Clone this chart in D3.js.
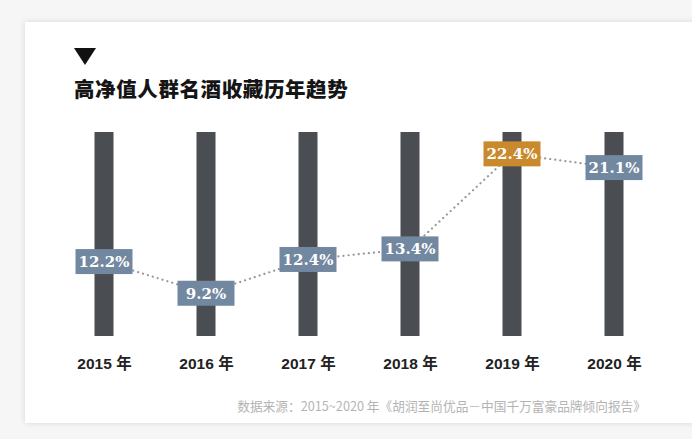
<!DOCTYPE html>
<html>
<head>
<meta charset="utf-8">
<script src="https://cdn.jsdelivr.net/npm/d3@7"></script>
<style>
  html, body { margin: 0; padding: 0; background: #f6f6f6; }
  #chart { width: 692px; height: 439px; overflow: hidden; }
</style>
</head>
<body>
<div id="chart"></div>
<script>
const years = ['2015 年', '2016 年', '2017 年', '2018 年', '2019 年', '2020 年'];
const shares = [12.2, 9.2, 12.4, 13.4, 22.4, 21.1];
const highlightYear = '2019 年';
const title = '高净值人群名酒收藏历年趋势';
const source = '数据来源：2015~2020 年《胡润至尚优品－中国千万富豪品牌倾向报告》';

const width = 692, height = 439;
const data = years.map((y, i) => ({year: y, value: shares[i]}));

const svg = d3.select('#chart').append('svg')
  .attr('width', width)
  .attr('height', height)
  .attr('viewBox', `0 0 ${width} ${height}`);

// card with soft shadow
const defs = svg.append('defs');
const shadow = defs.append('filter').attr('id', 'shadow')
  .attr('x', '-5%').attr('y', '-5%').attr('width', '110%').attr('height', '110%');
shadow.append('feDropShadow')
  .attr('dx', 0).attr('dy', 0).attr('stdDeviation', 3)
  .attr('flood-color', '#000').attr('flood-opacity', 0.12);

svg.append('rect')
  .attr('x', 25).attr('y', 22)
  .attr('width', 700).attr('height', 401)
  .attr('fill', '#fff')
  .attr('filter', 'url(#shadow)');

// title
svg.append('path')
  .attr('d', d3.line()([[74, 48], [96, 48], [85, 65]]) + 'Z')
  .attr('fill', '#111');

svg.append('text')
  .attr('x', 74).attr('y', 97)
  .attr('font-family', '"Noto Sans CJK SC", sans-serif')
  .attr('font-weight', 900)
  .attr('font-size', 20.5)
  .attr('letter-spacing', 0.6)
  .attr('fill', '#151515')
  .text(title);

// scales
const x = d3.scalePoint()
  .domain(years)
  .range([104, 614]);

const y = d3.scaleLinear()
  .domain([0, 25])
  .range([390.4, 126.4]);

const barTop = 132, barBottom = 336, barW = 19;

// bars (full height columns)
svg.append('g').selectAll('rect')
  .data(data)
  .join('rect')
  .attr('x', d => x(d.year) - barW / 2)
  .attr('y', barTop)
  .attr('width', barW)
  .attr('height', barBottom - barTop)
  .attr('fill', '#4a4d52');

// dotted trend line
svg.append('path')
  .datum(data)
  .attr('d', d3.line().x(d => x(d.year)).y(d => y(d.value)))
  .attr('fill', 'none')
  .attr('stroke', '#999')
  .attr('stroke-width', 2.2)
  .attr('stroke-linecap', 'round')
  .attr('stroke-dasharray', '0.1,5');

// value labels
const boxW = 57, boxH = 25;
const lab = svg.append('g').selectAll('g')
  .data(data)
  .join('g')
  .attr('transform', d => `translate(${x(d.year)},${y(d.value)})`);

lab.append('rect')
  .attr('x', -boxW / 2).attr('y', -boxH / 2)
  .attr('width', boxW).attr('height', boxH)
  .attr('fill', d => d.year === highlightYear ? '#c98a2e' : '#7287a0');

lab.append('text')
  .attr('text-anchor', 'middle')
  .attr('dy', '0.36em')
  .attr('font-family', '"DejaVu Serif", serif')
  .attr('font-weight', 700)
  .attr('font-size', 15)
  .attr('fill', '#fff')
  .text(d => d.value.toFixed(1) + '%');

// x axis labels
const xAxis = svg.append('g')
  .attr('transform', `translate(0,${barBottom})`)
  .call(d3.axisBottom(x).tickSize(0).tickPadding(33));
xAxis.select('.domain').remove();
xAxis.selectAll('text')
  .attr('font-family', '"Liberation Sans", Arial, "Noto Sans CJK SC", sans-serif')
  .attr('font-weight', 700)
  .attr('font-size', 15.5)
  .attr('fill', '#222')
  .attr('dy', 0);

// source
svg.append('text')
  .attr('x', 646).attr('y', 411)
  .attr('text-anchor', 'end')
  .attr('font-family', '"Noto Sans CJK SC", sans-serif')
  .attr('font-size', 12.7)
  .attr('fill', '#b4b4b4')
  .text(source);
</script>
</body>
</html>
